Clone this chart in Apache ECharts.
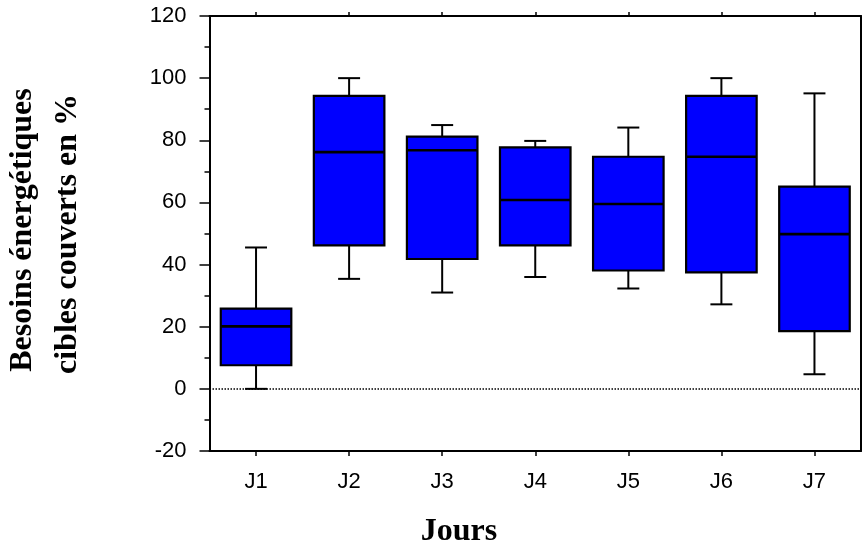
<!DOCTYPE html>
<html>
<head>
<meta charset="utf-8">
<script src="https://cdn.jsdelivr.net/npm/echarts@6/dist/echarts.min.js"></script>
<style>
html,body{margin:0;padding:0;background:#fff;}
#chart{width:863px;height:550px;}
</style>
</head>
<body>
<div id="chart"></div>
<script>
const categories = ['J1', 'J2', 'J3', 'J4', 'J5', 'J6', 'J7'];
const whiskerLow  = [0.0, 35.4, 31.0, 36.0, 32.3, 27.2, 4.7];
const q1          = [7.6, 46.2, 41.8, 46.2, 38.1, 37.5, 18.6];
const median      = [20.1, 76.2, 76.8, 60.8, 59.5, 74.7, 49.8];
const q3          = [25.8, 94.3, 81.2, 77.7, 74.7, 94.3, 65.1];
const whiskerHigh = [45.5, 100.0, 84.9, 79.8, 84.1, 100.0, 95.1];
const yMin = -20, yMax = 120, yStep = 20;
const yTitleLines = ['Besoins énergétiques', 'cibles couverts en %'];
const xTitle = 'Jours';

const boxData = categories.map((c, i) => [i, whiskerLow[i], q1[i], median[i], q3[i], whiskerHigh[i]]);

const chart = echarts.init(document.getElementById('chart'), null, {renderer: 'canvas'});

function renderBox(params, api) {
  const idx = api.value(0);
  const band = api.size([1, 0])[0];
  const boxW = band * 0.758;
  const capW = band * 0.236;
  const pLow = api.coord([idx, api.value(1)]);
  const pQ1 = api.coord([idx, api.value(2)]);
  const pMed = api.coord([idx, api.value(3)]);
  const pQ3 = api.coord([idx, api.value(4)]);
  const pHigh = api.coord([idx, api.value(5)]);
  const cx = pQ1[0];
  const lineStyle = {stroke: '#000', lineWidth: 2, fill: null};
  return {
    type: 'group',
    children: [
      {type: 'line', shape: {x1: cx, y1: pQ1[1], x2: cx, y2: pLow[1]}, style: lineStyle},
      {type: 'line', shape: {x1: cx, y1: pQ3[1], x2: cx, y2: pHigh[1]}, style: lineStyle},
      {type: 'line', shape: {x1: cx - capW / 2, y1: pLow[1], x2: cx + capW / 2, y2: pLow[1]}, style: lineStyle},
      {type: 'line', shape: {x1: cx - capW / 2, y1: pHigh[1], x2: cx + capW / 2, y2: pHigh[1]}, style: lineStyle},
      {type: 'rect', shape: {x: cx - boxW / 2, y: pQ3[1], width: boxW, height: pQ1[1] - pQ3[1]},
        style: {fill: '#0000FF', stroke: '#000', lineWidth: 2.2}},
      {type: 'line', shape: {x1: cx - boxW / 2, y1: pMed[1], x2: cx + boxW / 2, y2: pMed[1]},
        style: {stroke: '#000', lineWidth: 2.6}}
    ]
  };
}

const labelFont = "'Liberation Sans', Arial, Helvetica, sans-serif";
const titleFont = "'Liberation Serif', 'Times New Roman', Times, serif";

chart.setOption({
  animation: false,
  backgroundColor: '#fff',
  grid: {left: 209.5, right: 2, top: 16, bottom: 99, containLabel: false},
  xAxis: [
    {
      type: 'category', data: categories, position: 'bottom',
      axisLine: {show: true, onZero: false, lineStyle: {color: '#000', width: 2}},
      axisTick: {show: true, alignWithLabel: true, length: 5, lineStyle: {color: '#000', width: 1.5}},
      axisLabel: {show: true, color: '#000', fontSize: 22, fontFamily: labelFont, margin: 20},
      splitLine: {show: false}
    },
    {
      type: 'category', data: categories, position: 'top',
      axisLine: {show: true, onZero: false, lineStyle: {color: '#000', width: 2}},
      axisTick: {show: true, alignWithLabel: true, length: 4, lineStyle: {color: '#000', width: 1.5}},
      axisLabel: {show: false},
      splitLine: {show: false}
    }
  ],
  yAxis: [
    {
      type: 'value', min: yMin, max: yMax, interval: yStep, position: 'left',
      axisLine: {show: true, onZero: false, lineStyle: {color: '#000', width: 2}},
      axisTick: {show: true, length: 10, lineStyle: {color: '#000', width: 1.5}},
      minorTick: {show: true, splitNumber: 2, length: 5, lineStyle: {color: '#000', width: 1.5}},
      axisLabel: {color: '#000', fontSize: 22, fontFamily: labelFont, margin: 23, padding: [7, 0, 0, 0]},
      splitLine: {show: false}
    },
    {
      type: 'value', min: yMin, max: yMax, interval: yStep, position: 'right',
      axisLine: {show: true, onZero: false, lineStyle: {color: '#000', width: 2}},
      axisTick: {show: false},
      axisLabel: {show: false},
      splitLine: {show: false}
    }
  ],
  series: [
    {
      type: 'custom',
      xAxisIndex: 0, yAxisIndex: 0,
      renderItem: renderBox,
      encode: {x: 0, y: [1, 2, 3, 4, 5]},
      data: boxData,
      z: 3,
      markLine: {
        silent: true,
        symbol: ['none', 'none'],
        label: {show: false},
        lineStyle: {color: '#000', type: [1.5, 1.5], width: 1.5},
        data: [{yAxis: 0}],
        z: 2
      }
    }
  ],
  graphic: [
    {type: 'text', x: 23, y: 230, rotation: Math.PI / 2,
      style: {text: yTitleLines[0], font: 'bold 32px ' + titleFont, fill: '#000', align: 'center', verticalAlign: 'middle', textAlign: 'center', textVerticalAlign: 'middle'}},
    {type: 'text', x: 68, y: 234, rotation: Math.PI / 2,
      style: {text: yTitleLines[1], font: 'bold 32px ' + titleFont, fill: '#000', align: 'center', verticalAlign: 'middle', textAlign: 'center', textVerticalAlign: 'middle'}},
    {type: 'text', x: 459, y: 532,
      style: {text: xTitle, font: 'bold 32px ' + titleFont, fill: '#000', align: 'center', verticalAlign: 'middle', textAlign: 'center', textVerticalAlign: 'middle'}}
  ]
});
</script>
</body>
</html>
